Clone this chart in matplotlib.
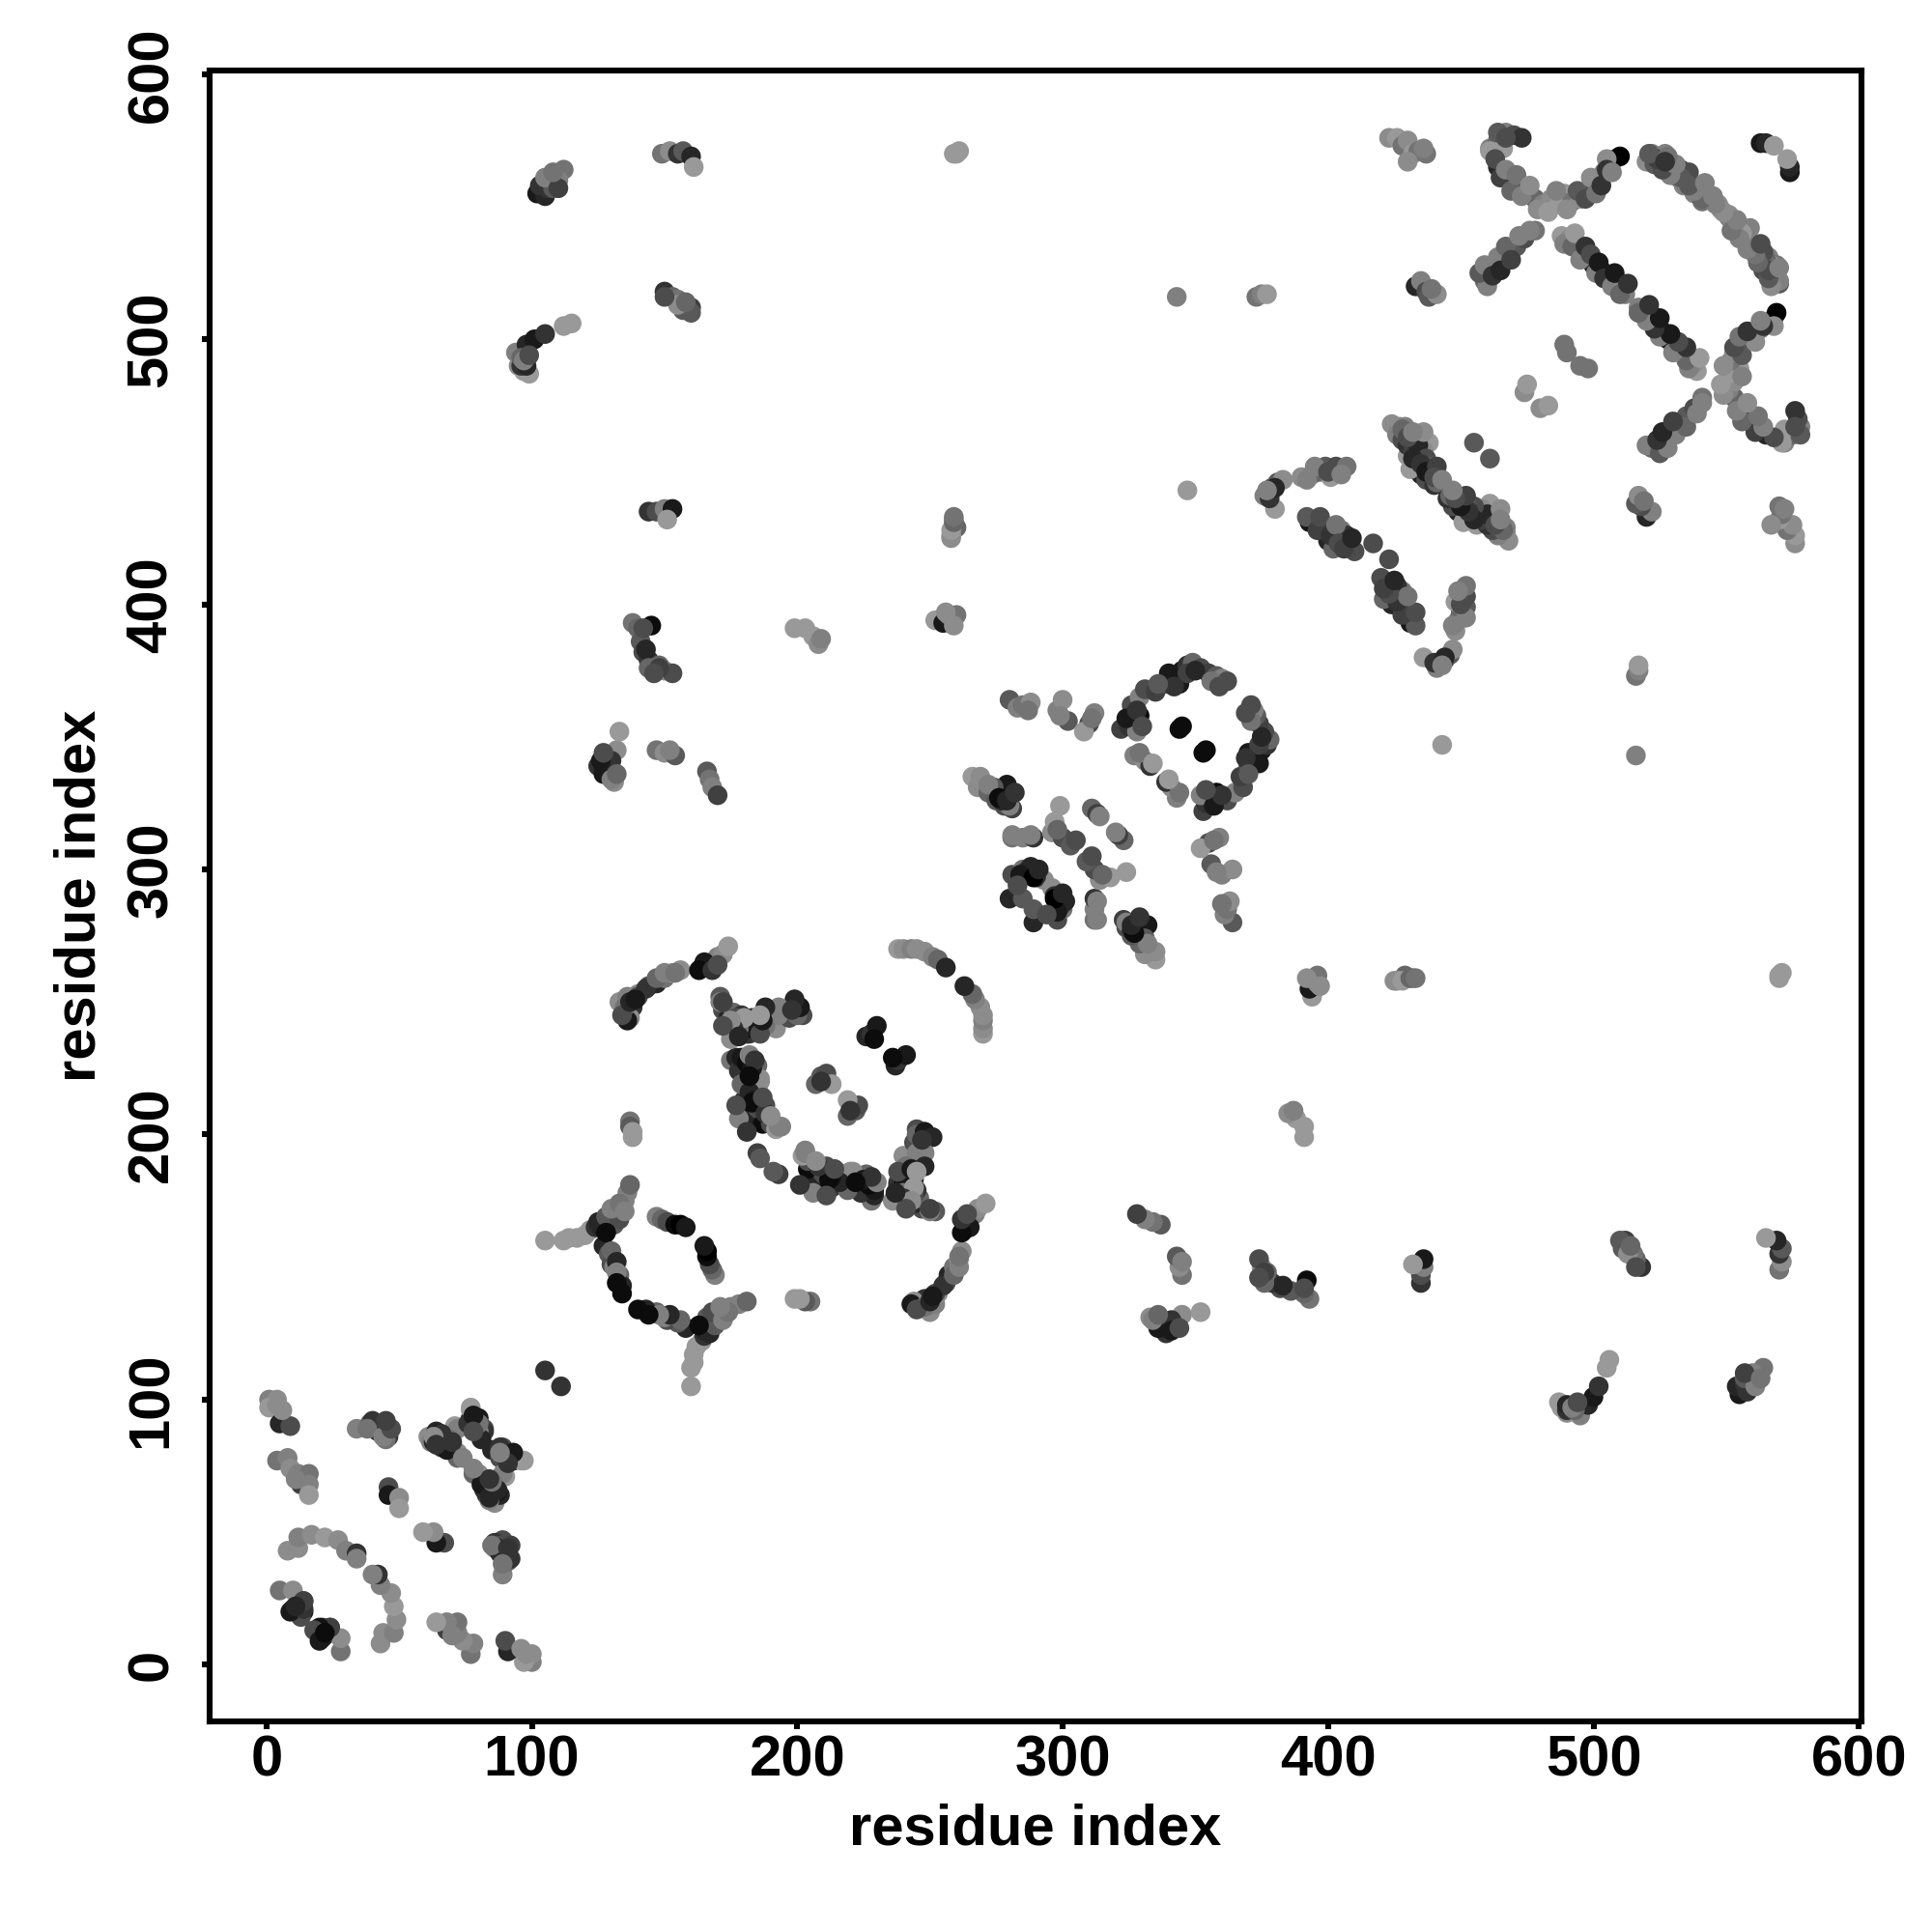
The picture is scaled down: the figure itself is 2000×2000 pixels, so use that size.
import matplotlib
matplotlib.use("Agg")
import numpy as np
import matplotlib.pyplot as plt

plt.rcParams['font.family'] = ['Liberation Sans', 'DejaVu Sans']

# The map is symmetric so each one is drawn at (i, j) and (j, i)
block_0_100 = [
    (1,100,.5),(4,100,.55),(1,97,.6),(4,98,.55),(5,91,.15),(9,90,.3),
    (4,77,.45),(8,78,.5),(9,74,.55),(12,72,.5),(16,72,.45),(13,68,.25),(16,68,.5),(16,64,.6),(11,70,.5),
    (8,43,.55),(12,44,.55),(12,48,.5),(17,49,.55),(22,48,.6),(27,47,.55),(30,43,.5),(34,42,.2),(34,40,.5),
    (5,28,.45),(10,28,.55),(14,24,.25),(10,21,.15),(14,20,.08),(13,18,.3),
    (34,89,.5),(39,91,.4),(41,91,.15),(43,90,.25),(46,86,.2),(45,88,.3),(42,88,.2),(40,92,.2),(44,87,.15),
    (46,67,.3),(46,64,.1),(50,63,.55),(50,59,.6),
    (61,86,.55),(64,88,.15),(66,82,.2),(72,80,.55),(71,90,.6),(77,97,.6),(78,92,.05),(82,89,.3),(82,88,.2),
    (77,93,.0),(77,96,.6),(72,89,.5),(72,78,.4),(68,81,.1),(65,87,.1),(62,84,.5),
    (105,111,.2),
    (6,96,.55),(85,81,.15),(80,93,.1),(76,91,.2),(80,88,.5),(63,84,.15),(66,87,.15),(69,85,.45),(70,84,.2),
    (87,66,.2),(86,63,.55),(83,64,.2),(74,78,.5),(91,80,.45),(94,78,.1),(88,78,.3),(45,85,.45),(44,91,.2),(38,89,.45),
    (86,44,.5),(89,47,.3),(92,45,.25),(9,20,.1),(12,22,.05),(21,14,.2),(24,14,.25),(22,11,.15),
]
block_100_180 = [
    (105,160,.6),(112,160,.6),(114,161,.6),(117,161,.6),(120,162,.6),(122,164,.6),
    (124,165,.2),(126,165,.15),(128,167,.3),(130,168,.25),(132,170,.3),(134,172,.45),(135,175,.5),(136,178,.5),(137,181,.4),
    (127,158,.15),(129,155,.35),(130,151,.3),(131,150,.5),(133,147,.4),(134,143,.15),(134,140,.05),
    (147,169,.5),(149,168,.4),(151,167,.3),(154,166,.05),(156,166,.0),(158,165,.1),
    (137,205,.45),(137,203,.35),(138,201,.6),(138,199,.6),
    (133,250,.55),(136,252,.5),(136,246,.4),(138,248,.2),(137,244,.55),(140,253,.55),(144,256,.3),(147,257,.15),
    (150,259,.45),(153,261,.6),(156,262,.55),(164,263,.2),(166,264,.15),(168,265,.4),(170,267,.5),(172,268,.55),(174,271,.6),
    (144,435,.2),(147,435,.3),(150,436,.5),(153,436,.1),(151,432,.6),
    (138,393,.45),(140,391,.4),(145,392,.05),(141,386,.35),(142,382,.3),(144,379,.2),(146,376,.45),(150,375,.55),(153,374,.3),(148,377,.4),
    (125,339,.2),(127,338,.15),(128,341,.35),(130,343,.4),(132,345,.55),(133,352,.6),(131,333,.55),(127,336,.1),
    (147,345,.45),(150,344,.55),(154,343,.35),(152,345,.5),
    (166,337,.35),(167,334,.45),(168,331,.5),(170,328,.25),
    (150,518,.2),(153,516,.4),(155,515,.45),(157,511,.35),(160,512,.25),(160,510,.35),(155,513,.55),
    (149,570,.45),(152,571,.55),(155,570,.2),(157,571,.35),(160,569,.15),(161,565,.6),
    (102,555,.1),(105,554,.15),(103,558,.2),(106,560,.45),(110,562,.3),(112,564,.45),(110,560,.5),(106,557,.2),
    (94,495,.5),(95,490,.55),(97,488,.6),(99,487,.6),(96,490,.2),(98,490,.15),(98,498,.15),(101,500,.1),(105,502,.2),(112,505,.6),(115,506,.6),(96,493,.4),
    (136,243,.1),(140,252,.3),(143,255,.2),(147,259,.4),(150,261,.5),(154,261,.45),
    (127,165,.1),(129,165,.2),(125,167,.15),(128,169,.35),(131,166,.35),(133,168,.3),(130,172,.5),(133,174,.45),(135,171,.5),
    (128,163,.05),(130,156,.4),(132,152,.15),(132,148,.5),(132,144,.05),(165,265,.1),(163,262,.05),(135,248,.45),(134,245,.3),
    (137,250,.15),(139,251,.1),(168,262,.2),(170,264,.3),(142,391,.3),(143,383,.15),(144,376,.4),(148,376,.25),
    (130,341,.2),(126,341,.1),(127,344,.3),(130,334,.5),(132,336,.4),(97,492,.5),(99,494,.3),(150,516,.3),(158,514,.4),
    (108,557,.35),(105,561,.5),(110,557,.25),(108,563,.45),(146,374,.3),
]
block_170_270 = [
    (171,252,.35),(172,247,.3),(174,244,.15),(176,246,.4),(178,244,.25),(180,243,.2),(182,238,.3),(183,244,.2),
    (185,242,.15),(188,241,.35),(192,240,.55),(195,247,.45),(197,244,.3),(199,250,.1),(201,248,.25),(202,245,.3),
    (175,228,.45),(177,229,.15),(178,224,.2),(180,225,.2),(185,226,.4),(186,221,.55),(185,218,.6),(182,223,.15),
    (180,213,.2),(181,209,.1),(183,206,.15),(178,206,.5),(186,209,.25),(187,204,.05),(185,210,.3),(190,204,.3),(192,202,.6),(194,203,.5),
    (185,193,.25),(186,191,.35),(181,201,.2),(188,211,.3),(186,215,.35),(181,222,.2),(186,220,.55),(193,203,.5),
    (181,238,.2),(184,241,.25),(179,245,.2),(173,241,.6),(171,250,.5),(186,244,.3),(200,245,.4),(201,248,.1),(199,251,.15),(193,245,.5),(188,241,.45),
    (209,222,.35),(211,223,.3),(207,219,.4),(213,219,.6),(209,220,.2),
    (226,237,.15),(228,238,.2),(230,241,.1),(229,236,.05),
    (238,270,.6),(240,270,.55),(243,270,.5),(245,270,.55),(248,269,.55),(251,267,.5),(253,266,.4),(256,263,.15),
    (172,250,.25),(179,241,.1),(181,240,.05),(184,240,.1),(186,238,.3),(179,229,.1),(181,227,.05),(183,225,.1),(179,219,.4),
    (182,216,.15),(184,213,.1),(183,212,.05),(188,208,.2),(190,207,.55),(177,211,.3),(178,240,.45),(177,244,.3),(193,248,.5),
    (198,247,.2),(182,230,.5),(187,214,.3),(180,244,.6),(184,228,.2),(176,240,.2),(175,243,.55),(187,243,.1),(175,236,.55),
    (172,241,.3),(178,237,.15),(182,222,.05),(188,248,.15),(186,245,.6),
]
block_250_380 = [
    (260,570,.6),(261,571,.6),(259,570,.6),
    (259,432,.55),(260,429,.4),(258,426,.6),
    (252,394,.6),(255,393,.1),(257,396,.5),(260,396,.45),(259,392,.55),(256,397,.55),
    (199,391,.6),(203,391,.6),(206,388,.6),(208,385,.55),(209,387,.5),
    (280,364,.35),(283,361,.5),(285,362,.45),(288,363,.55),(287,360,.45),
    (298,360,.5),(300,364,.55),(302,356,.35),(299,358,.5),
    (312,359,.5),(310,355,.3),(308,352,.6),(311,357,.45),
    (322,353,.25),(325,354,.2),(327,356,.15),(329,358,.05),(328,352,.5),(326,362,.3),(329,365,.5),(331,368,.3),(335,367,.25),
    (339,370,.3),(341,372,.2),(343,373,.15),(345,375,.1),(347,377,.2),(349,378,.4),(352,376,.3),(355,374,.25),(358,373,.35),(360,372,.5),(362,371,.3),
    (344,353,.05),(345,354,.05),
    (327,343,.5),(331,341,.55),(333,339,.2),(329,344,.45),(334,340,.6),
    (266,335,.6),(269,335,.55),(268,331,.55),(272,329,.4),(276,330,.15),(278,328,.1),(279,332,.1),(278,324,.3),(281,323,.25),(275,326,.35),
    (281,312,.45),(285,312,.5),(289,312,.2),
    (281,298,.3),(285,300,.45),(287,300,.3),(290,299,.05),(288,298,.1),(280,289,.15),(285,289,.35),(284,297,.3),(286,299,.2),
    (288,301,.15),(293,296,.55),(290,297,.2),(288,313,.5),(281,313,.5),(280,324,.5),(277,326,.15),(279,329,.1),(274,331,.35),
    (296,314,.55),(297,318,.6),(299,324,.6),(300,312,.3),(303,309,.35),(311,323,.4),(313,321,.25),(314,320,.5),
    (343,516,.5),(347,443,.6),
    (373,516,.45),(375,517,.5),(377,517,.6),
    (258,425,.55),(258,428,.6),(259,431,.4),(259,433,.45),
    (324,357,.1),(328,360,.2),(330,354,.3),(340,374,.1),(344,370,.1),(347,374,.25),(350,375,.15),(356,371,.45),(359,369,.3),
    (342,369,.2),(336,370,.35),(272,332,.5),(276,327,.05),(279,326,.15),(282,329,.2),(284,298,.1),(289,297,.0),(291,300,.15),
    (305,311,.3),(298,315,.4),(283,294,.3),
]
block_370_470 = [
    (376,441,.5),(378,442,.35),(379,444,.3),(381,446,.35),(383,447,.55),(380,436,.6),(390,448,.55),(394,449,.5),(397,450,.4),(399,452,.35),(403,452,.3),(407,452,.45),(401,448,.6),
    (393,431,.1),(395,431,.05),(398,430,.15),(399,427,.1),(400,424,.15),(402,421,.4),(405,428,.45),(407,426,.2),(408,423,.2),(410,420,.3),(417,423,.3),
    (424,468,.55),(427,467,.55),(429,467,.5),(431,465,.45),(433,463,.4),(435,462,.5),(438,461,.6),(436,458,.55),(434,455,.25),(430,456,.6),(433,452,.1),(435,449,.15),(431,451,.6),(437,447,.3),(440,445,.2),(441,446,.4),
    (455,461,.35),
    (433,520,.15),(435,522,.5),(437,518,.3),(438,516,.35),(441,517,.55),(439,519,.45),
    (423,576,.55),(426,576,.6),(428,573,.45),(430,575,.55),(432,570,.6),(434,571,.45),(437,570,.45),(430,567,.55),(436,572,.5),
    (474,480,.55),(475,483,.6),(489,498,.45),(490,495,.45),
    (392,433,.35),(396,428,.25),(397,433,.3),(401,426,.2),(403,430,.45),(404,423,.3),(406,421,.25),(409,425,.15),(378,440,.2),
    (380,444,.15),(377,443,.5),(392,447,.5),(395,452,.5),(400,450,.3),(405,449,.5),
    (426,464,.5),(428,462,.3),(430,460,.2),(432,458,.25),(434,460,.15),(437,455,.3),(439,452,.35),(432,455,.15),(435,453,.2),
    (437,450,.1),(428,466,.4),(436,465,.55),(441,452,.25),(440,448,.3),(443,447,.5),(430,463,.3),(432,465,.5),
]
block_460_580 = [
    (461,572,.5),(464,575,.4),(467,578,.5),(470,577,.3),(473,576,.2),(466,572,.6),(464,565,.15),(466,563,.1),(468,561,.2),(470,559,.3),
    (472,557,.2),(475,555,.35),(478,553,.4),(481,551,.5),(484,553,.55),(487,551,.6),(489,555,.6),(492,552,.45),(495,553,.55),(498,556,.4),
    (500,558,.3),(502,560,.35),(504,563,.45),(506,566,.4),(508,568,.45),(510,569,.0),(505,568,.55),
    (459,522,.4),(461,526,.55),(463,528,.15),(466,529,.3),(468,532,.45),(471,535,.35),(474,538,.3),(478,541,.45),(460,520,.5),
    (488,539,.6),(491,538,.55),(494,535,.35),(496,532,.1),(498,530,.1),(500,528,.15),(503,526,.15),(506,524,.25),(509,522,.2),(511,520,.45),(512,517,.5),
    (522,570,.5),(525,569,.5),(528,567,.55),(530,565,.4),(533,564,.3),(535,561,.4),(537,558,.5),(540,556,.6),(543,553,.55),(547,551,.55),
    (464,578,.35),(467,576,.3),(461,571,.6),
    (563,574,.1),(565,574,.15),(568,573,.6),
    (463,568,.3),(465,561,.25),(467,564,.5),(469,556,.4),(471,562,.45),(473,554,.5),(476,558,.55),(479,549,.55),(483,548,.6),
    (486,556,.5),(490,549,.55),(494,556,.35),(497,553,.3),(499,561,.55),(501,555,.45),(503,558,.2),(505,564,.2),(507,563,.5),
    (457,525,.35),(459,528,.5),(462,524,.2),(464,531,.5),(465,526,.15),(467,535,.4),(469,530,.25),(472,539,.5),(476,541,.5),
    (489,536,.5),(492,535,.4),(493,540,.6),(495,530,.5),(497,535,.2),(499,532,.3),(501,525,.5),(502,529,.1),(504,523,.2),
    (507,520,.5),(508,525,.1),(510,517,.4),(513,521,.2),
    (520,567,.55),(523,566,.35),(526,566,.3),(527,570,.5),(529,562,.4),(532,561,.45),(534,558,.5),(536,563,.3),(538,555,.5),
    (541,552,.45),(545,554,.5),(548,549,.55),(551,546,.5),(553,541,.4),(554,545,.5),(556,538,.5),(558,536,.35),(559,542,.5),
    (561,533,.35),(562,529,.5),(564,526,.3),(566,531,.5),(568,524,.25),(569,528,.45),(570,521,.35),(567,527,.2),
]

tick_values = [0, 100, 200, 300, 400, 500, 600]
axis_label = "residue index"

contacts = np.array(block_0_100 + block_100_180 + block_170_270 + block_250_380 + block_370_470 + block_460_580)
res_i = np.concatenate([contacts[:, 0], contacts[:, 1]])
res_j = np.concatenate([contacts[:, 1], contacts[:, 0]])
shade = np.concatenate([contacts[:, 2], contacts[:, 2]])

fig = plt.figure(figsize = (10, 10), dpi = 200)
ax = fig.add_axes([217 / 2000, 1 - 1782 / 2000, (1927 - 217) / 2000, (1782 - 73) / 2000])

ax.scatter(res_i, res_j, s = 54, c = shade, cmap = "gray", vmin = 0, vmax = 1, linewidths = 0)

ax.set_xlim(-21.4, 601)
ax.set_ylim(-21.4, 601.4)
ax.set_xticks(tick_values)
ax.set_yticks(tick_values)

for side in ax.spines.values():
    side.set_linewidth(2.2)

ax.tick_params(axis = "x", length = 3, width = 2.2, labelsize = 21.5, pad = 2)
ax.tick_params(axis = "y", length = 3, width = 2.2, labelsize = 21.5, pad = 8.5)
for lab in ax.get_xticklabels() + ax.get_yticklabels():
    lab.set_fontweight("bold")
for lab in ax.get_yticklabels():
    lab.set_rotation(90)
    lab.set_verticalalignment("center")

ax.set_xlabel(axis_label, fontsize = 21.5, fontweight = "bold", labelpad = 5.5)
ax.set_ylabel(axis_label, fontsize = 21.5, fontweight = "bold", labelpad = 7)

fig.savefig("out.png", dpi = 200)
